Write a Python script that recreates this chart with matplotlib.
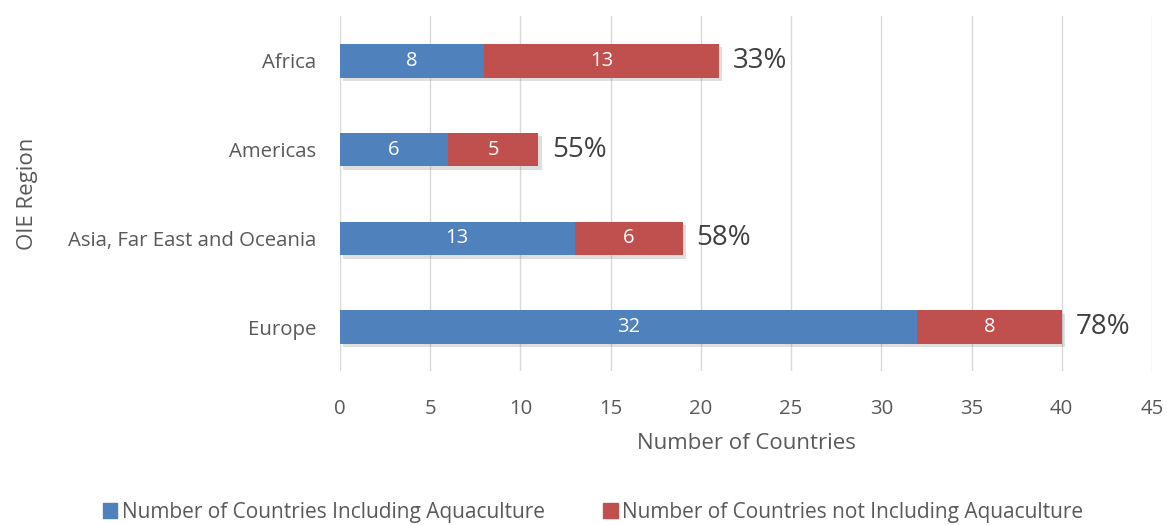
import matplotlib.pyplot as plt
import matplotlib.patheffects as pe
from matplotlib.patches import Patch

regions = ["Africa", "Americas", "Asia, Far East and Oceania", "Europe"]
including = [8, 6, 13, 32]
not_including = [13, 5, 6, 8]
pct_labels = ["33%", "55%", "58%", "78%"]

blue = "#4F81BD"
red = "#C0504D"
txt = "#595959"

plt.rcParams['font.family'] = ['Open Sans', 'DejaVu Sans']

fig = plt.figure(figsize=(11.67, 5.25), dpi=100)
ax = fig.add_axes([0.2913, 0.2924, 0.6958, 0.6762])

y = list(range(len(regions)))
shadow = [pe.SimplePatchShadow(offset=(2.5, -2.5), alpha=0.25, shadow_rgbFace="gray"), pe.Normal()]
ax.barh(y, including, height=0.38, color=blue, path_effects=shadow, zorder=3)
ax.barh(y, not_including, left=including, height=0.38, color=red, path_effects=shadow, zorder=3)

for i in y:
    ax.text(including[i] / 2, i, str(including[i]), color="white", ha="center", va="center",
            fontsize=14.5, zorder=4)
    ax.text(including[i] + not_including[i] / 2, i, str(not_including[i]), color="white",
            ha="center", va="center", fontsize=14.5, zorder=4)
    ax.text(including[i] + not_including[i] + 0.75, i, pct_labels[i], color="#404040",
            ha="left", va="center", fontsize=20, zorder=4)

ax.set_xlim(0, 45)
ax.set_ylim(len(regions) - 0.5, -0.5)
ax.set_xticks(range(0, 46, 5))
ax.set_yticks(y)
ax.set_yticklabels(regions)
ax.grid(axis="x", color="#D9D9D9", linewidth=1, zorder=0)
for s in ax.spines.values():
    s.set_visible(False)
ax.tick_params(length=0, labelsize=14.7, colors=txt)
ax.tick_params(axis="y", pad=17)
ax.tick_params(axis="x", pad=20)
ax.set_xlabel("Number of Countries", fontsize=16, color=txt, labelpad=10)
ax.set_ylabel("OIE Region", fontsize=16, color=txt)
ax.yaxis.set_label_coords(-0.372, 0.5)

handles = [Patch(color=blue, label="Number of Countries Including Aquaculture"),
           Patch(color=red, label="Number of Countries not Including Aquaculture")]
fig.legend(handles=handles, loc="center", bbox_to_anchor=(0.508, 0.024), ncol=2, frameon=False,
           fontsize=15, labelcolor=txt, handlelength=0.7, handleheight=0.7, columnspacing=2.8,
           handletextpad=0.2)

fig.savefig("out.png", dpi=100)
